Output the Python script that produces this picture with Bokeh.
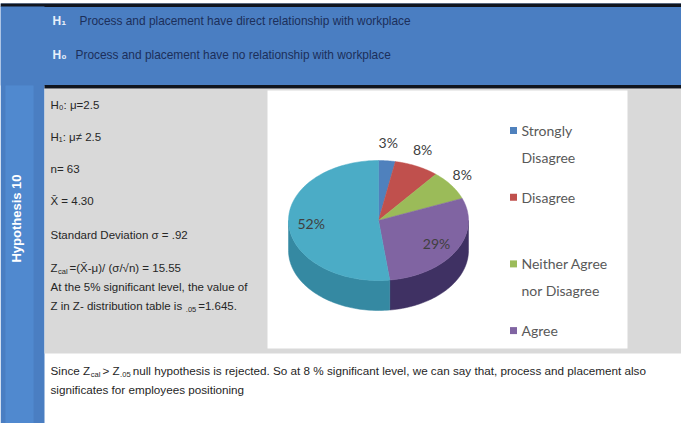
import math
from bokeh.plotting import figure
from bokeh.models import Range1d
from bokeh.embed import file_html
from bokeh.resources import INLINE
from bokeh.core.properties import value

# ---------------- data ----------------
categories = ["Strongly Disagree", "Disagree", "Neither Agree nor Disagree", "Agree", "Strongly Agree"]
percent = [3, 8, 8, 29, 52]
slice_colors = ["#4F81BD", "#C0504D", "#9BBB59", "#8064A2", "#4BACC6"]
side_colors = ["#3A6190", "#8E3A38", "#738C42", "#3F3163", "#3589A2"]
legend_labels = [["Strongly", "Disagree"], ["Disagree"], ["Neither Agree", "nor Disagree"], ["Agree"]]

hyp_keys = ["H\u2081", "H\u2080"]
hyp_texts = ["Process and placement have direct relationship with workplace",
             "Process and placement have no relationship with workplace"]

side_title = "Hypothesis 10"

stats_lines = [
    [("H\u2080: \u03bc=2.5", 0)],
    [("H\u2081: \u03bc\u2260 2.5", 0)],
    [("n= 63", 0)],
    [("X\u0304 = 4.30", 0)],
    [("Standard Deviation \u03c3 = .92", 0)],
    [("Z", 0), ("cal", 1), ("=(X\u0304-\u03bc)/ (\u03c3/\u221an) = 15.55", 0)],
    [("At the 5% significant level, the value of", 0)],
    [("Z in Z- distribution table is ", 0), (".05", 1), ("=1.645.", 0)],
]
conclusion_lines = [
    [("Since Z", 0), ("cal", 1), ("> Z", 0), (".05", 1),
     (" null hypothesis is rejected. So at 8 % significant level, we can say that,  process and placement also", 0)],
    [("significates for employees positioning", 0)],
]

# ---------------- helpers ----------------
W, H = 681, 423
FONT = "Liberation Sans"
ARIAL_W = {' ': 278, '!': 278, '%': 889, '(': 333, ')': 333, ',': 278, '-': 333, '.': 278, '/': 278,
           ':': 278, '=': 584, '>': 584, 'A': 667, 'D': 722, 'H': 722, 'P': 667, 'S': 667, 'X': 667,
           'Z': 611, 'a': 556, 'b': 556, 'c': 500, 'd': 556, 'e': 556, 'f': 278, 'g': 556, 'h': 556,
           'i': 222, 'j': 222, 'k': 500, 'l': 222, 'm': 833, 'n': 556, 'o': 556, 'p': 556, 'q': 556,
           'r': 333, 's': 500, 't': 278, 'u': 556, 'v': 500, 'w': 722, 'x': 500, 'y': 500, 'z': 500,
           '\u0304': 0}


def text_w(s, size):
    return sum(ARIAL_W.get(c, 556) for c in s) / 1000.0 * size


p = figure(width=W, height=H, x_range=Range1d(0, W), y_range=Range1d(H, 0),
           output_backend="svg", toolbar_location=None, min_border=0)
p.axis.visible = False
p.grid.visible = False
p.outline_line_color = None
p.background_fill_color = "white"
p.border_fill_color = "white"

# ---------------- background layout ----------------
blue = "#4A7EC2"
p.quad(left=[0], right=[W], top=[3], bottom=[85], fill_color=blue, line_color=None)
p.quad(left=[0], right=[W], top=[3], bottom=[6.5], fill_color="#10151E", line_color=None)
p.quad(left=[0], right=[44], top=[6], bottom=[H], fill_color=blue, line_color=None)
p.quad(left=[5], right=[33], top=[85], bottom=[H], fill_color="#5089CF", line_color=None)
p.quad(left=[44], right=[W], top=[88], bottom=[353], fill_color="#D9D9D9", line_color=None)
p.quad(left=[44], right=[W], top=[84.5], bottom=[88], fill_color="#10151E", line_color=None)
p.quad(left=[267], right=[627], top=[90], bottom=[348], fill_color="white", line_color=None)

# hypothesis header lines
hy = [20, 54]
p.text(x=[52] * 2, y=hy, text=hyp_keys, text_font=value(FONT),
       text_font_size=value("12px"), text_font_style="bold", text_color="#E8F0FA",
       text_baseline="middle")
p.text(x=[79, 75], y=hy, text=hyp_texts, text_font=value(FONT),
       text_font_size=value("11.9px"), text_color="#1C2F5A", text_baseline="middle")

# vertical label
p.text(x=[16], y=[218], text=[side_title], angle=math.pi / 2, text_align="center",
       text_baseline="middle", text_font=value(FONT), text_font_size=value("13px"),
       text_font_style="bold", text_color="white")


def draw_lines(lines, x0, ys, size, color):
    nx, ny, nt, sx, sy, st = [], [], [], [], [], []
    for line, y in zip(lines, ys):
        x = x0
        for seg, sub in line:
            if sub:
                sx.append(x + 0.5); sy.append(y + 4); st.append(seg)
                x += text_w(seg, size * 0.65) + 2.5
            else:
                nx.append(x); ny.append(y); nt.append(seg)
                x += text_w(seg, size)
    p.text(x=nx, y=ny, text=nt, text_font=value(FONT), text_font_size=value(f"{size}px"),
           text_color=color, text_baseline="middle")
    p.text(x=sx, y=sy, text=st, text_font=value(FONT), text_font_size=value(f"{size * 0.65:.1f}px"),
           text_color=color, text_baseline="middle")


draw_lines(stats_lines, 50, [104, 136, 168, 200, 234, 267, 286, 305], 11.5, "#262626")
draw_lines(conclusion_lines, 50, [370, 389], 11.7, "#262626")

# ---------------- 3D pie ----------------
cx, cy, rx, ry, depth = 378, 220, 90, 60, 30
total = float(sum(percent))


def ell(t):
    r = math.radians(t)
    return cx + rx * math.cos(r), cy - ry * math.sin(r)


def arc(a, b, n=60):
    return [a + (b - a) * i / n for i in range(n + 1)]


starts, ends = [], []
ang = 90.0
for v in percent:
    starts.append(ang)
    ang -= v / total * 360.0
    ends.append(ang)

# side walls (front half: angles in [-180, 0] modulo 360)
side_xs, side_ys, side_fc = [], [], []
for s, e, c in zip(starts, ends, side_colors):
    for k in (-360, 0, 360):
        lo, hi = max(e, -180 + k), min(s, 0 + k)
        if hi > lo:
            ts = arc(hi, lo)
            top = [ell(t) for t in ts]
            xs = [q[0] for q in top] + [q[0] for q in reversed(top)]
            ys = [q[1] for q in top] + [q[1] + depth for q in reversed(top)]
            side_xs.append(xs); side_ys.append(ys); side_fc.append(c)
p.patches(side_xs, side_ys, fill_color=side_fc, line_color=side_fc, line_width=0.5)

top_xs, top_ys = [], []
for s, e in zip(starts, ends):
    pts = [ell(t) for t in arc(s, e, 90)]
    top_xs.append([cx] + [q[0] for q in pts])
    top_ys.append([cy] + [q[1] for q in pts])
p.patches(top_xs, top_ys, fill_color=slice_colors, line_color=slice_colors, line_width=0.5)

# percentage labels
lx, ly, lt = [], [], []
for s, e, v in zip(starts, ends, percent):
    m = math.radians((s + e) / 2)
    if v < 10:
        fx, fy = 1.15, 1.3
    else:
        fx, fy = 0.75, 0.75
    lx.append(cx + rx * fx * math.cos(m))
    ly.append(cy - ry * fy * math.sin(m))
    lt.append(f"{v}%")
p.text(x=lx, y=ly, text=lt, text_font=value("Lato"), text_font_size=value("14px"),
       text_color="#404040", text_align="center", text_baseline="middle")

# legend (only the entries that fit in the chart box, as in the source)
leg_y0, leg_step, line_step = 130, 66.7, 27
mx, my, mc, tx, ty, tt = [], [], [], [], [], []
for i, lines in enumerate(legend_labels):
    y = leg_y0 + i * leg_step
    mx.append(513); my.append(y); mc.append(slice_colors[i])
    for j, t in enumerate(lines):
        tx.append(521); ty.append(y + j * line_step); tt.append(t)
p.scatter(x=mx, y=my, marker="square", size=7, fill_color=mc, line_color=None)
p.text(x=tx, y=ty, text=tt, text_font=value("Lato"), text_font_size=value("14px"),
       text_color="#595959", text_baseline="middle")

open("out.html", "w").write(file_html(p, INLINE))
